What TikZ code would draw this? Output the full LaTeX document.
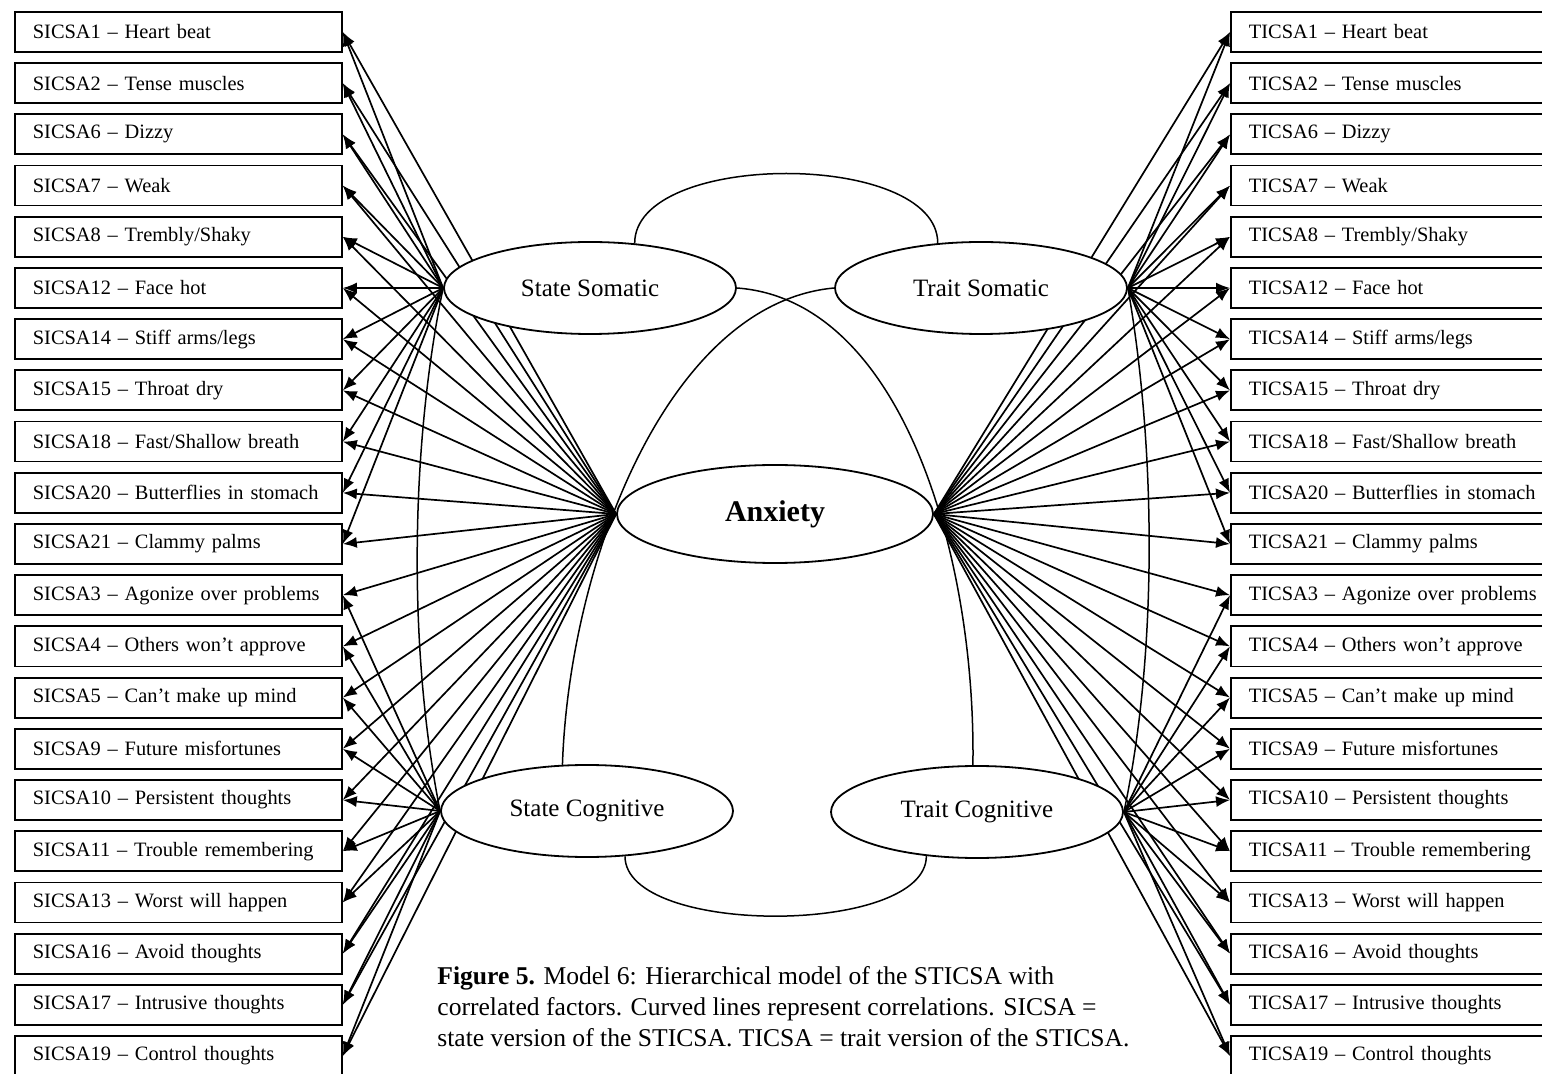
\documentclass[tikz,border=0pt]{standalone}
\usepackage{fontspec}
\setmainfont{Liberation Serif}
\usetikzlibrary{positioning,shapes.geometric,arrows.meta,backgrounds}

\begin{document}
\begin{tikzpicture}[
        x=0.5pt, y=-0.5pt,
        item/.style = {shape=rectangle, draw, line width=0.9pt,
                       minimum height=20pt, text width=145.5pt,
                       inner xsep=9pt, inner ysep=0pt, align=left,
                       font=\fontsize{10.2}{12}\selectfont},
        factor/.style = {shape=ellipse, draw, fill=white, line width=0.9pt,
                         minimum width=146pt, minimum height=46pt, inner sep=0pt,
                         font=\fontsize{12.5}{14}\selectfont},
        load/.style = {-{Latex[length=7pt,width=5.5pt]}, line width=0.85pt},
        corr/.style = {line width=0.75pt}]
    \useasboundingbox (0,0) rectangle (1542,1074);

    % observed items: state version left, trait version right
    \foreach \k/\txt [count=\i] in {1/Heart beat, 2/Tense muscles, 6/Dizzy, 7/Weak,
            8/{Trembly/Shaky}, 12/Face hot, 14/{Stiff arms/legs}, 15/Throat dry,
            18/{Fast/Shallow breath}, 20/Butterflies in stomach, 21/Clammy palms,
            3/Agonize over problems, 4/Others won't approve, 5/Can't make up mind,
            9/Future misfortunes, 10/Persistent thoughts, 11/Trouble remembering,
            13/Worst will happen, 16/Avoid thoughts, 17/Intrusive thoughts,
            19/Control thoughts} {
        \node[item, anchor=west] (s\i) at (14, {32+51.2*(\i-1)}) {\mbox{SICSA\k\ – \txt}};
        \node[item, anchor=west] (t\i) at (1230, {32+51.2*(\i-1)}) {\mbox{TICSA\k\ – \txt}};
    }

    % latent factors
    \node[factor] (ss) at (590,288) {State Somatic};
    \node[factor] (ts) at (981,288) {Trait Somatic};
    \node[factor, minimum width=158pt, minimum height=49pt,
          font=\fontsize{15}{17}\selectfont\bfseries] (anx) at (775,514) {Anxiety};
    \node[factor] (sc) at (587,811) {State Cognitive};
    \node[factor] (tc) at (977,812) {Trait Cognitive};

    \begin{scope}[on background layer]
        \foreach \i in {1,...,11} {
            \draw[load] (ss.west) -- (s\i.east);
            \draw[load] (ts.east) -- (t\i.west);
        }
        \foreach \i in {12,...,21} {
            \draw[load] (sc.west) -- (s\i.east);
            \draw[load] (tc.east) -- (t\i.west);
        }
        \foreach \i in {1,...,21} {
            \draw[load] (anx.west) -- (s\i.east);
            \draw[load] (anx.east) -- (t\i.west);
        }
        % correlations
        \draw[corr] (ss.45) .. controls +(0,-93) and +(0,-93) .. (ts.134);
        \draw[corr] (sc.310) .. controls +(0,80) and +(0,80) .. (tc.221);
        \draw[corr] (ss.west) .. controls +(-33,160) and +(-32,-160) .. (sc.west);
        \draw[corr] (ts.east) .. controls +(28,160) and +(34,-160) .. (tc.east);
        \draw[corr] (ss.east) .. controls +(164,12) and +(3,-212) .. (tc.95);
        \draw[corr] (ts.west) .. controls +(-165,15) and +(7,-205) .. (sc.118);
    \end{scope}

    \node[anchor=north west, inner sep=0pt, align=left,
          font=\fontsize{12.8}{15.5}\selectfont] (cap) at (437,966)
        {\textbf{Figure 5.} Model 6: Hierarchical model of the STICSA with\\
         correlated factors. Curved lines represent correlations. SICSA =\\
         state version of the STICSA. TICSA = trait version of the STICSA.};
\end{tikzpicture}
\end{document}
